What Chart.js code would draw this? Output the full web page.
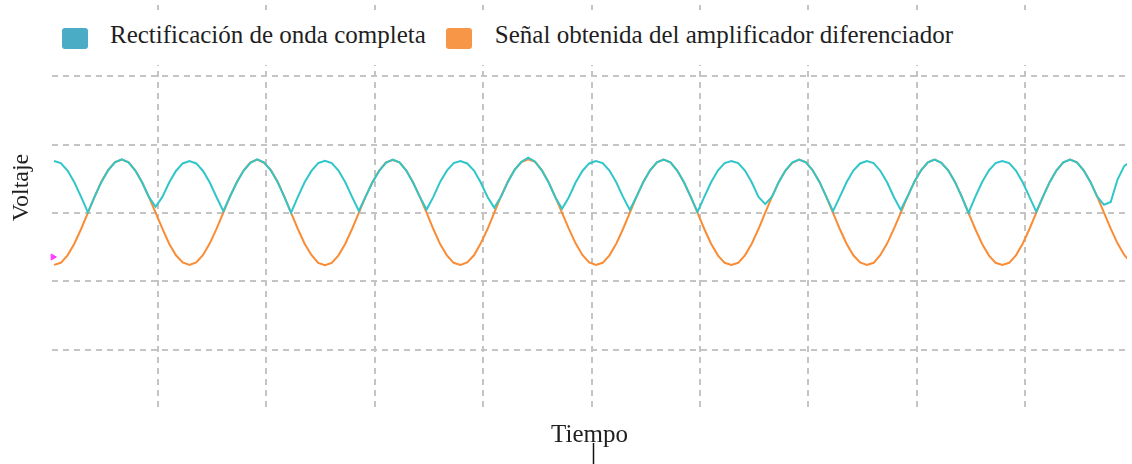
<!DOCTYPE html>
<html lang="es">
<head>
<meta charset="utf-8">
<title>Rectificación de onda completa</title>
<script src="https://cdn.jsdelivr.net/npm/chart.js@4.4.1/dist/chart.umd.min.js"></script>
<style>
  html, body { margin: 0; padding: 0; background: #fff; }
  #wrap { position: relative; width: 1132px; height: 464px; overflow: hidden; }
  #legend {
    position: absolute; left: 52px; top: 10px; width: 1080px; height: 55px;
    box-sizing: border-box; padding-left: 10px; background: #fff;
    display: flex; align-items: flex-start;
    font-family: "Liberation Serif", "Times New Roman", serif; font-size: 25px; color: #1f1f1f;
  }
  #legend .item { display: flex; align-items: flex-start; }
  #legend .item + .item { margin-left: 20px; }
  #legend .swatch { width: 26px; height: 21px; border-radius: 3px; margin-top: 18.3px; }
  #legend .label { margin-left: 22px; margin-top: 12.4px; line-height: 25px; white-space: nowrap; }
  #legend .item + .item .label { margin-left: 23px; }
</style>
</head>
<body>
<div id="wrap">
  <canvas id="scope" width="1132" height="464"></canvas>
  <div id="legend"></div>
</div>
<script>
// Sample clock of the capture (ms)
const sampleTimes = [
  0, 0.125, 0.25, 0.375, 0.5, 0.625, 0.75, 0.875,
  1, 1.125, 1.25, 1.375, 1.5, 1.625, 1.75, 1.875,
  2, 2.125, 2.25, 2.375, 2.5, 2.625, 2.75, 2.875,
  3, 3.125, 3.25, 3.375, 3.5, 3.625, 3.75, 3.875,
  4, 4.125, 4.25, 4.375, 4.5, 4.625, 4.75, 4.875,
  5, 5.125, 5.25, 5.375, 5.5, 5.625, 5.75, 5.875,
  6, 6.125, 6.25, 6.375, 6.5, 6.625, 6.75, 6.875,
  7, 7.125, 7.25, 7.375, 7.5, 7.625, 7.75, 7.875,
  8, 8.125, 8.25, 8.375, 8.5, 8.625, 8.75, 8.875,
  9, 9.125, 9.25, 9.375, 9.5, 9.625, 9.75, 9.875,
  10, 10.125, 10.25, 10.375, 10.5, 10.625, 10.75, 10.875,
  11, 11.125, 11.25, 11.375, 11.5, 11.625, 11.75, 11.875,
  12, 12.125, 12.25, 12.375, 12.5, 12.625, 12.75, 12.875,
  13, 13.125, 13.25, 13.375, 13.5, 13.625, 13.75, 13.875,
  14, 14.125, 14.25, 14.375, 14.5, 14.625, 14.75, 14.875,
  15, 15.125, 15.25, 15.375, 15.5, 15.625, 15.75, 15.875,
  16, 16.125, 16.25, 16.375, 16.5, 16.625, 16.75, 16.875,
  17, 17.125, 17.25, 17.375, 17.5, 17.625, 17.75, 17.875,
  18, 18.125, 18.25, 18.375, 18.5, 18.625, 18.75, 18.875,
  19, 19.125, 19.25, 19.375, 19.5, 19.625, 19.75, 19.875
];

// Full-wave rectifier output (V)
const cyanTrace = [
  1.52, 1.46, 1.24, 0.90, 0.47, 0.02, 0.48, 0.91, 1.25, 1.48, 1.57, 1.48, 1.24, 0.90, 0.47, 0.18, 0.47, 0.89, 1.23, 1.45,
  1.52, 1.45, 1.23, 0.89, 0.46, 0.05, 0.49, 0.90, 1.24, 1.47, 1.57, 1.48, 1.25, 0.91, 0.47, 0.01, 0.47, 0.90, 1.23, 1.46,
  1.53, 1.46, 1.24, 0.90, 0.47, 0.06, 0.48, 0.89, 1.23, 1.47, 1.56, 1.48, 1.24, 0.89, 0.47, 0.10, 0.47, 0.91, 1.24, 1.46,
  1.52, 1.45, 1.24, 0.89, 0.47, 0.15, 0.48, 0.91, 1.26, 1.50, 1.62, 1.51, 1.25, 0.90, 0.46, 0.12, 0.46, 0.89, 1.23, 1.45,
  1.52, 1.46, 1.24, 0.90, 0.47, 0.09, 0.48, 0.91, 1.25, 1.48, 1.56, 1.48, 1.24, 0.90, 0.47, 0.03, 0.47, 0.90, 1.24, 1.46,
  1.52, 1.46, 1.24, 0.90, 0.47, 0.26, 0.48, 0.91, 1.25, 1.48, 1.56, 1.48, 1.25, 0.91, 0.48, 0.05, 0.47, 0.90, 1.24, 1.45,
  1.52, 1.46, 1.23, 0.89, 0.46, 0.09, 0.48, 0.91, 1.25, 1.48, 1.56, 1.47, 1.25, 0.91, 0.48, 0.00, 0.47, 0.90, 1.24, 1.46,
  1.52, 1.46, 1.24, 0.90, 0.47, 0.04, 0.48, 0.91, 1.25, 1.48, 1.56, 1.48, 1.25, 0.91, 0.48, 0.24, 0.32, 0.98, 1.38, 1.50
];

// Differential amplifier output (V)
const orangeTrace = [
  -1.52, -1.46, -1.24, -0.90, -0.47, 0.00, 0.48, 0.92, 1.26, 1.49, 1.56, 1.48, 1.25, 0.90, 0.47, 0.01, -0.46, -0.90, -1.24, -1.45,
  -1.52, -1.45, -1.23, -0.89, -0.46, 0.01, 0.49, 0.91, 1.25, 1.48, 1.56, 1.47, 1.26, 0.92, 0.48, 0.00, -0.47, -0.90, -1.23, -1.46,
  -1.53, -1.46, -1.24, -0.90, -0.47, 0.00, 0.48, 0.90, 1.24, 1.48, 1.55, 1.48, 1.25, 0.90, 0.48, 0.01, -0.47, -0.91, -1.24, -1.46,
  -1.52, -1.45, -1.24, -0.89, -0.47, 0.01, 0.49, 0.92, 1.27, 1.49, 1.57, 1.50, 1.26, 0.91, 0.47, 0.00, -0.46, -0.89, -1.23, -1.45,
  -1.52, -1.46, -1.24, -0.90, -0.47, 0.00, 0.48, 0.91, 1.25, 1.48, 1.56, 1.48, 1.24, 0.90, 0.47, 0.00, -0.47, -0.90, -1.24, -1.46,
  -1.52, -1.46, -1.24, -0.90, -0.47, 0.01, 0.48, 0.91, 1.25, 1.47, 1.56, 1.48, 1.25, 0.91, 0.48, 0.00, -0.47, -0.90, -1.24, -1.45,
  -1.52, -1.46, -1.23, -0.89, -0.46, 0.00, 0.48, 0.91, 1.25, 1.48, 1.56, 1.47, 1.25, 0.91, 0.48, 0.00, -0.47, -0.90, -1.24, -1.46,
  -1.52, -1.46, -1.24, -0.90, -0.47, 0.00, 0.48, 0.91, 1.25, 1.48, 1.56, 1.48, 1.25, 0.91, 0.48, 0.01, -0.46, -0.89, -1.23, -1.45
];

// Channel reference marker at the left edge
const markerLevel = [{ x: -0.02, y: -1.29 }];

// Division lines: 2 ms/div and 2 V/div
const timeGrid = [1.92, 3.92, 5.92, 7.92, 9.92, 11.92, 13.92, 15.92, 17.92];
const voltGrid = [-4, -2, 0, 2, 4];
const triggerTime = 9.95;

const seriesNames = ['Rectificación de onda completa', 'Señal obtenida del amplificador diferenciador'];
const axisTitles = { x: 'Tiempo', y: 'Voltaje' };

// Legend built as HTML on top of the plot band
const htmlLegend = {
  id: 'htmlLegend',
  afterUpdate(chart) {
    const box = document.getElementById('legend');
    box.innerHTML = '';
    chart.data.datasets.forEach((ds) => {
      if (!ds.label) return;
      const item = document.createElement('div');
      item.className = 'item';
      const sw = document.createElement('span');
      sw.className = 'swatch';
      sw.style.background = ds.backgroundColor;
      const tx = document.createElement('span');
      tx.className = 'label';
      tx.textContent = ds.label;
      item.append(sw, tx);
      box.append(item);
    });
  }
};

// Vertical axis caption
const axisCaption = {
  id: 'axisCaption',
  afterDraw(chart, args, opts) {
    const ctx = chart.ctx;
    ctx.save();
    ctx.font = opts.font;
    ctx.fillStyle = opts.color;
    ctx.translate(opts.x, opts.y);
    ctx.rotate(-Math.PI / 2);
    ctx.textAlign = 'center';
    ctx.textBaseline = 'middle';
    ctx.fillText(opts.text, 0, 0);
    ctx.restore();
  }
};

// Trigger cursor below the time axis
const triggerCursor = {
  id: 'triggerCursor',
  afterDraw(chart, args, opts) {
    const ctx = chart.ctx;
    const x = Math.round(chart.scales.x.getPixelForValue(opts.value)) + 0.5;
    ctx.save();
    ctx.strokeStyle = opts.color;
    ctx.lineWidth = opts.width;
    ctx.beginPath();
    ctx.moveTo(x, chart.height - opts.length);
    ctx.lineTo(x, chart.height);
    ctx.stroke();
    ctx.restore();
  }
};

const gridStyle = { color: '#c4c4c4', lineWidth: 2, drawTicks: false };
const borderStyle = { display: false, dash: [6, 5] };

new Chart(document.getElementById('scope'), {
  type: 'line',
  data: {
    labels: sampleTimes,
    datasets: [
      {
        label: seriesNames[0],
        data: cyanTrace,
        borderColor: '#30c6c9',
        backgroundColor: '#4bacc6',
        borderWidth: 2,
        pointRadius: 0,
        tension: 0
      },
      {
        label: seriesNames[1],
        data: orangeTrace,
        borderColor: '#fa8c35',
        backgroundColor: '#f79646',
        borderWidth: 2,
        pointRadius: 0,
        tension: 0
      },
      {
        data: markerLevel,
        showLine: false,
        pointStyle: 'triangle',
        rotation: 90,
        pointRadius: 3.5,
        borderWidth: 1,
        borderColor: '#ff3cff',
        backgroundColor: '#ff3cff',
        clip: false
      }
    ]
  },
  options: {
    responsive: false,
    animation: false,
    events: [],
    layout: { padding: { top: 5, left: 0, right: 0, bottom: 0 } },
    plugins: {
      legend: { display: false },
      tooltip: { enabled: false },
      axisCaption: { text: axisTitles.y, x: 22, y: 187.5, font: '24px "Liberation Serif"', color: '#1f1f1f' },
      triggerCursor: { value: triggerTime, length: 21, color: '#111', width: 1.5 }
    },
    scales: {
      x: {
        type: 'linear',
        min: -0.037,
        max: 19.8,
        afterBuildTicks: (s) => { s.ticks = timeGrid.map((v) => ({ value: v })); },
        afterFit: (s) => { s.height = 54; },
        ticks: { display: false },
        grid: gridStyle,
        border: borderStyle,
        title: {
          display: true,
          text: axisTitles.x,
          color: '#1f1f1f',
          font: { family: 'Liberation Serif', size: 25, lineHeight: 1.2 },
          padding: { top: 0, bottom: 14 }
        }
      },
      y: {
        min: -5.77,
        max: 6.09,
        afterBuildTicks: (s) => { s.ticks = voltGrid.map((v) => ({ value: v })); },
        afterFit: (s) => { s.width = 52; },
        ticks: { display: false },
        grid: gridStyle,
        border: borderStyle
      }
    }
  },
  plugins: [htmlLegend, axisCaption, triggerCursor]
});
</script>
</body>
</html>
